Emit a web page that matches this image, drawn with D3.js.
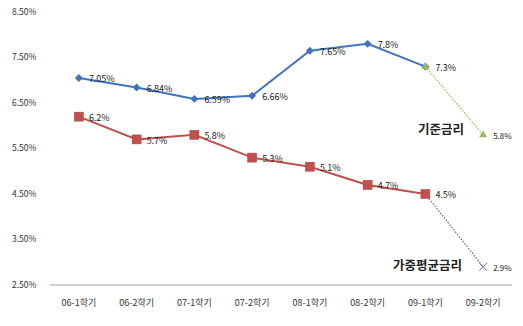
<!DOCTYPE html>
<html><head><meta charset="utf-8">
<script src="https://cdn.jsdelivr.net/npm/d3@7"></script>
<style>body{margin:0;background:#fff;}svg{display:block;font-family:"Noto Sans CJK KR","Noto Sans",sans-serif;}</style>
</head><body><svg id="c" width="523" height="326"></svg>
<script>
const categories = ["06-1학기","06-2학기","07-1학기","07-2학기","08-1학기","08-2학기","09-1학기","09-2학기"];
const baseRate = [7.05,6.84,6.59,6.66,7.65,7.8,7.3];
const baseForecast = [7.3,5.8];
const avgRate = [6.2,5.7,5.8,5.3,5.1,4.7,4.5];
const avgForecast = [4.5,2.9];
const yTicks = [2.5,3.5,4.5,5.5,6.5,7.5,8.5];
const baseName = "기준금리";
const avgName = "가중평균금리";

const svg = d3.select("#c");
const x = d3.scaleBand().domain(categories).range([50,512]);
const y = d3.scaleLinear().domain([2.5,8.5]).range([285,12]);
const cx = c => x(c) + x.bandwidth()/2;

// y labels
svg.append("g").selectAll("text").data(yTicks).join("text")
  .attr("x",12).attr("y",d=>y(d)).attr("dy","0.35em")
  .attr("font-size",8.5).attr("fill","#333").text(d=>d.toFixed(2)+"%");

// x axis line
svg.append("line").attr("x1",50).attr("x2",512).attr("y1",y(2.5)).attr("y2",y(2.5))
  .attr("stroke","#a6a6a6").attr("stroke-width",1.2);
svg.append("g").selectAll("text").data(categories).join("text")
  .attr("x",d=>cx(d)).attr("y",306).attr("text-anchor","middle")
  .attr("font-size",9).attr("fill","#333").text(d=>d);

const line = d3.line();
function pts(vals, offset){ return vals.map((v,i)=>[cx(categories[i+offset]), y(v)]); }

// forecast dotted lines
svg.append("path").attr("d",line(pts(baseForecast,6))).attr("fill","none")
  .attr("stroke","#9bbb59").attr("stroke-width",1.3).attr("stroke-dasharray","1.5,1.5");
svg.append("path").attr("d",line(pts(avgForecast,6))).attr("fill","none")
  .attr("stroke","#8064a2").attr("stroke-width",1.3).attr("stroke-dasharray","1.5,1.5");

// main lines
svg.append("path").attr("d",line(pts(baseRate,0))).attr("fill","none")
  .attr("stroke","#3e74c0").attr("stroke-width",2);
svg.append("path").attr("d",line(pts(avgRate,0))).attr("fill","none")
  .attr("stroke","#c0504d").attr("stroke-width",2);

// markers
svg.append("g").selectAll("path").data(pts(baseRate,0)).join("path")
  .attr("transform",d=>`translate(${d[0]},${d[1]})`)
  .attr("d",d3.symbol(d3.symbolDiamond2,40)()).attr("fill","#3e74c0");
svg.append("g").selectAll("rect").data(pts(avgRate,0)).join("rect")
  .attr("x",d=>d[0]-4.5).attr("y",d=>d[1]-4.5).attr("width",9).attr("height",9)
  .attr("fill","#c0504d").attr("stroke","#b03c3a").attr("stroke-width",0.5);
svg.append("g").selectAll("path").data(pts(baseForecast,6)).join("path")
  .attr("transform",d=>`translate(${d[0]},${d[1]})`)
  .attr("d",d3.symbol(d3.symbolTriangle,28)()).attr("fill","#9bbb59");
svg.append("g").selectAll("path").data(pts(avgForecast,6).slice(1)).join("path")
  .attr("transform",d=>`translate(${d[0]},${d[1]})`)
  .attr("d",d3.symbol(d3.symbolTimes,40)()).attr("fill","none").attr("stroke","#8064a2").attr("stroke-width",1);

// data labels
function labels(vals, offset, fmt, size){
  svg.append("g").selectAll("text").data(vals).join("text")
    .attr("x",(d,i)=>cx(categories[i+offset])+10).attr("y",d=>y(d)+1).attr("dy","0.35em")
    .attr("font-size",size).attr("fill","#222").text(fmt);
}
const fmt = d => (Math.round(d*100)%10===0 ? d.toFixed(1) : d.toFixed(2)) + "%";
labels(baseRate,0,fmt,9);
labels(avgRate,0,fmt,9);
labels(baseForecast.slice(1),7,fmt,8);
labels(avgForecast.slice(1),7,fmt,8);

svg.append("text").attr("x",418).attr("y",130).attr("dy","0.35em").attr("font-size",12.5)
  .attr("font-weight","bold").attr("fill","#222").text(baseName);
svg.append("text").attr("x",393).attr("y",266).attr("dy","0.35em").attr("font-size",12.5)
  .attr("font-weight","bold").attr("fill","#222").text(avgName);
</script></body></html>
